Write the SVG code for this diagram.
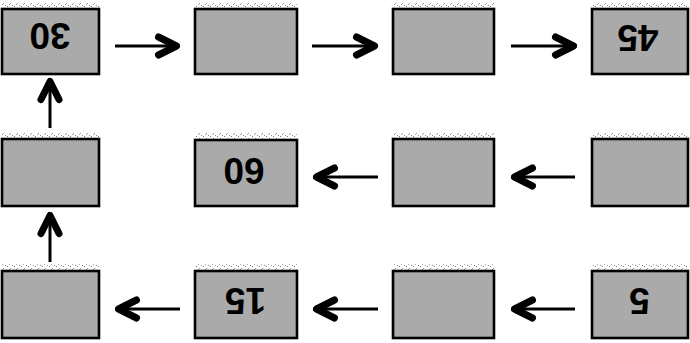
<svg xmlns="http://www.w3.org/2000/svg" width="690" height="343" viewBox="0 0 690 343">
  <style>
    .box rect.b { fill: #aaaaaa; stroke: #000; stroke-width: 2.6; }
    .box rect.s { fill: url(#speck); }
    .box text { font-family: "Liberation Sans", Arial, sans-serif; font-weight: bold; font-size: 37px; fill: #000; text-anchor: middle; }
    .conn line { stroke: #000; stroke-width: 3; marker-end: url(#chev); }
  </style>
  <defs>
    <pattern id="speck" width="7" height="5" patternUnits="userSpaceOnUse">
      <rect x="0" y="1" width="1" height="1" fill="#777"/>
      <rect x="3" y="3" width="1" height="1" fill="#999"/>
      <rect x="5" y="0" width="1" height="1" fill="#888"/>
      <rect x="2" y="4" width="1" height="1" fill="#aaa"/>
    </pattern>
    <marker id="chev" markerUnits="userSpaceOnUse" markerWidth="40" markerHeight="40" viewBox="-30 -20 40 40" refX="0" refY="0" orient="auto" overflow="visible">
      <path d="M-21.5,-9 L-3.5,0 L-21.5,9" fill="none" stroke="#000" stroke-width="7" stroke-linecap="round" stroke-linejoin="round"/>
    </marker>
  </defs>
  <rect width="690" height="343" fill="#fff"/>

  <!-- Row 1 -->
  <g id="n30" class="box">
    <rect class="s" x="2" y="2" width="97" height="6"/>
    <rect class="b" x="2" y="9" width="97" height="65"/>
    <text transform="translate(50,36.5) rotate(180)" y="13.2">30</text>
  </g>
  <g id="r1c2" class="box">
    <rect class="s" x="195" y="2" width="102" height="6"/>
    <rect class="b" x="195" y="9" width="102" height="65"/>
  </g>
  <g id="r1c3" class="box">
    <rect class="s" x="393" y="2" width="101" height="6"/>
    <rect class="b" x="393" y="9" width="101" height="65"/>
  </g>
  <g id="n45" class="box">
    <rect class="s" x="592" y="2" width="96" height="6"/>
    <rect class="b" x="592" y="9" width="96" height="65"/>
    <text transform="translate(638,38.5) rotate(180)" y="13.2">45</text>
  </g>

  <!-- Row 2 -->
  <g id="r2c1" class="box">
    <rect class="s" x="2" y="132" width="97" height="6"/>
    <rect class="b" x="2" y="139" width="97" height="67"/>
  </g>
  <g id="n60" class="box">
    <rect class="s" x="195" y="133" width="102" height="6"/>
    <rect class="b" x="195" y="140" width="102" height="66"/>
    <text transform="translate(244,171.5) rotate(180)" y="13.2">60</text>
  </g>
  <g id="r2c3" class="box">
    <rect class="s" x="393" y="132" width="101" height="6"/>
    <rect class="b" x="393" y="139" width="101" height="67"/>
  </g>
  <g id="r2c4" class="box">
    <rect class="s" x="592" y="132" width="96" height="6"/>
    <rect class="b" x="592" y="139" width="96" height="67"/>
  </g>

  <!-- Row 3 -->
  <g id="r3c1" class="box">
    <rect class="s" x="2" y="264" width="97" height="6"/>
    <rect class="b" x="2" y="271" width="97" height="67"/>
  </g>
  <g id="n15" class="box">
    <rect class="s" x="195" y="264" width="102" height="6"/>
    <rect class="b" x="195" y="271" width="102" height="67"/>
    <text transform="translate(245.5,301.5) rotate(180)" y="13.2">15</text>
  </g>
  <g id="r3c3" class="box">
    <rect class="s" x="393" y="264" width="101" height="6"/>
    <rect class="b" x="393" y="271" width="101" height="67"/>
  </g>
  <g id="n5" class="box">
    <rect class="s" x="592" y="264" width="96" height="6"/>
    <rect class="b" x="592" y="271" width="96" height="67"/>
    <text transform="translate(639.5,301.5) rotate(180)" y="13.2">5</text>
  </g>

  <!-- Connectors -->
  <g id="connectors" class="conn">
    <line x1="115" y1="46" x2="180" y2="46"/>
    <line x1="312" y1="46" x2="378" y2="46"/>
    <line x1="511" y1="46" x2="577" y2="46"/>
    <line x1="50" y1="128" x2="50" y2="78"/>
    <line x1="50" y1="262" x2="50" y2="212"/>
    <line x1="378" y1="177" x2="313" y2="177"/>
    <line x1="575" y1="177" x2="511" y2="177"/>
    <line x1="180" y1="309" x2="115" y2="309"/>
    <line x1="378" y1="309" x2="313" y2="309"/>
    <line x1="575" y1="309" x2="511" y2="309"/>
  </g>
</svg>
